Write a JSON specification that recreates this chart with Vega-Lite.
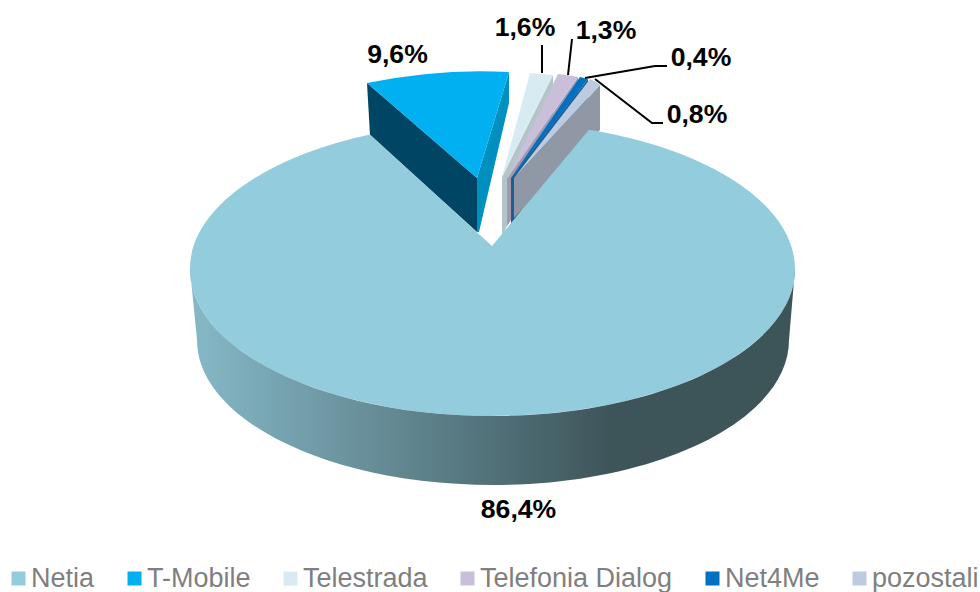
{
"$schema":"https://vega.github.io/schema/vega-lite/v6.json",
"width":980,"height":592,"padding":0,"autosize":{"type":"none"},
"background":"white",
"config":{"view":{"stroke":null}},
"datasets":{"slices":[
{"slice":"Netia","share":86.4,"label":"86,4%"},
{"slice":"T-Mobile","share":9.6,"label":"9,6%"},
{"slice":"Telestrada","share":1.6,"label":"1,6%"},
{"slice":"Telefonia Dialog","share":1.3,"label":"1,3%"},
{"slice":"Net4Me","share":0.4,"label":"0,4%"},
{"slice":"pozostali","share":0.8,"label":"0,8%"}
]},
"data":{"name":"slices"},
"layer":[
{"mark":{"type":"square","opacity":1,"size":0,"strokeWidth":0},
 "encoding":{
  "color":{"field":"slice","type":"nominal","title":null,
   "scale":{"domain":["Netia","T-Mobile","Telestrada","Telefonia Dialog","Net4Me","pozostali"],"range":["#93cddd","#00b0f0","#d8ebf2","#c9bfd9","#0070c0","#bccbe0"]},
   "legend":{"orient":"none","legendX":5,"legendY":565,"direction":"horizontal","columns":6,"gridAlign":"none","padding":0,"columnPadding":26,"symbolType":"square","symbolSize":196,"symbolStrokeWidth":0,"symbolOpacity":1,"labelFont":"Liberation Sans","labelFontSize":27,"labelColor":"#7f7f7f","labelOffset":-1,"labelLimit":400,"title":null}}}},
{"transform":[{"filter":{"field":"slice","oneOf":["T-Mobile"]}}],
 "mark":{"type":"point","filled":true,"opacity":1,"size":4,"strokeWidth":0,"color":"#004664"},
 "encoding":{"shape":{"field":"slice","type":"nominal","legend":null,"scale":{"domain":["T-Mobile"],"range":["M-123,-213L-13,-118L-13,-64L-120,-161Z"]}}}},
{"transform":[{"filter":{"field":"slice","oneOf":["T-Mobile","Telestrada","Telefonia Dialog","Net4Me","pozostali"]}}],
 "mark":{"type":"point","filled":true,"opacity":1,"size":4,"strokeWidth":0},
 "encoding":{
  "shape":{"field":"slice","type":"nominal","legend":null,"scale":{"domain":["T-Mobile","Telestrada","Telefonia Dialog","Net4Me","pozostali"],"range":["M19,-224L19,-193L-11,-64L-13,-64L-13,-118Z","M63,-221L12,-119L12,-59L63,-170Z","M88,-219L17,-117L17,-70L88,-170Z","M98,-217L21,-118L21,-72L98,-170Z","M110,-211L24,-118L24,-78L110,-166Z"]}},
  "color":{"field":"slice","type":"nominal","legend":null,"scale":{"domain":["T-Mobile","Telestrada","Telefonia Dialog","Net4Me","pozostali"],"range":["#0090c0","#b3c5c8","#a398b0","#1a5e94","#9098a6"]}}}},
{"mark":{"type":"point","filled":true,"opacity":1,"size":4,"strokeWidth":0},
 "encoding":{
  "shape":{"field":"slice","type":"nominal","legend":null,"scale":{"domain":["Netia","T-Mobile","Telestrada","Telefonia Dialog","Net4Me","pozostali"],"range":["M-120,-161.4L2,-50L99,-166.3A302.5,147 0 1 1 -120,-161.4Z","M-123,-213Q-50,-228 19,-224L-13,-118Z","M40,-223Q52,-222 63,-221L12,-119Z","M68,-222Q78,-221 88,-219L17,-118Z","M90,-219Q94,-218 98,-217L21,-118Z","M100,-217Q105,-215 110,-211L24,-118Z"]}},
  "color":{"field":"slice","type":"nominal","legend":null,
   "scale":{"domain":["Netia","T-Mobile","Telestrada","Telefonia Dialog","Net4Me","pozostali"],"range":["#93cddd","#00b0f0","#d8ebf2","#c9bfd9","#0070c0","#bccbe0"]}}}},
{"transform":[{"filter":{"field":"slice","oneOf":["Netia"]}}],
 "mark":{"type":"point","filled":true,"opacity":1,"size":4,"strokeWidth":0,
  "fill":{"gradient":"linear","x1":0,"y1":0,"x2":1,"y2":0,"stops":[{"offset":0,"color":"#86b9c8"},{"offset":0.7,"color":"#3d5459"},{"offset":1,"color":"#3d5459"}]}},
 "encoding":{"shape":{"field":"slice","type":"nominal","legend":null,"scale":{"domain":["Netia"],"range":["M-300,-27L-293,44A296,145 0 0 0 299,44L305,-27A302.5,147 0 0 1 -300,-27Z"]}}}},
{"transform":[{"filter":{"field":"slice","oneOf":["Telestrada","Telefonia Dialog","Net4Me","pozostali"]}}],
 "mark":{"type":"point","filled":false,"opacity":1,"size":4,"strokeWidth":2,"color":"#000000"},
 "encoding":{"shape":{"field":"slice","type":"nominal","legend":null,"scale":{"domain":["Telestrada","Telefonia Dialog","Net4Me","pozostali"],"range":["M52,-251L52,-223","M82,-257L78,-221","M177,-230L165,-230L95,-218","M173,-173L162,-173L105,-217"]}}}},
{"mark":{"type":"text","font":"Liberation Sans","fontWeight":"bold","fontSize":26.6,"color":"#000000","align":"center","baseline":"middle"},
 "encoding":{
  "text":{"field":"label","type":"nominal"},
  "x":{"field":"share","type":"quantitative","axis":null,"scale":{"domain":[0.4,0.8,1.3,1.6,9.6,86.4],"range":[701,697,606,525,397.5,518.5],"zero":false,"nice":false}},
  "y":{"field":"share","type":"quantitative","axis":null,"scale":{"domain":[0.4,0.8,1.3,1.6,9.6,86.4],"range":[58,115,31,28,55,510],"zero":false,"nice":false}}}}
],
"resolve":{"scale":{"shape":"independent","color":"independent","x":"independent","y":"independent"},"axis":{"x":"independent","y":"independent"}}
}
